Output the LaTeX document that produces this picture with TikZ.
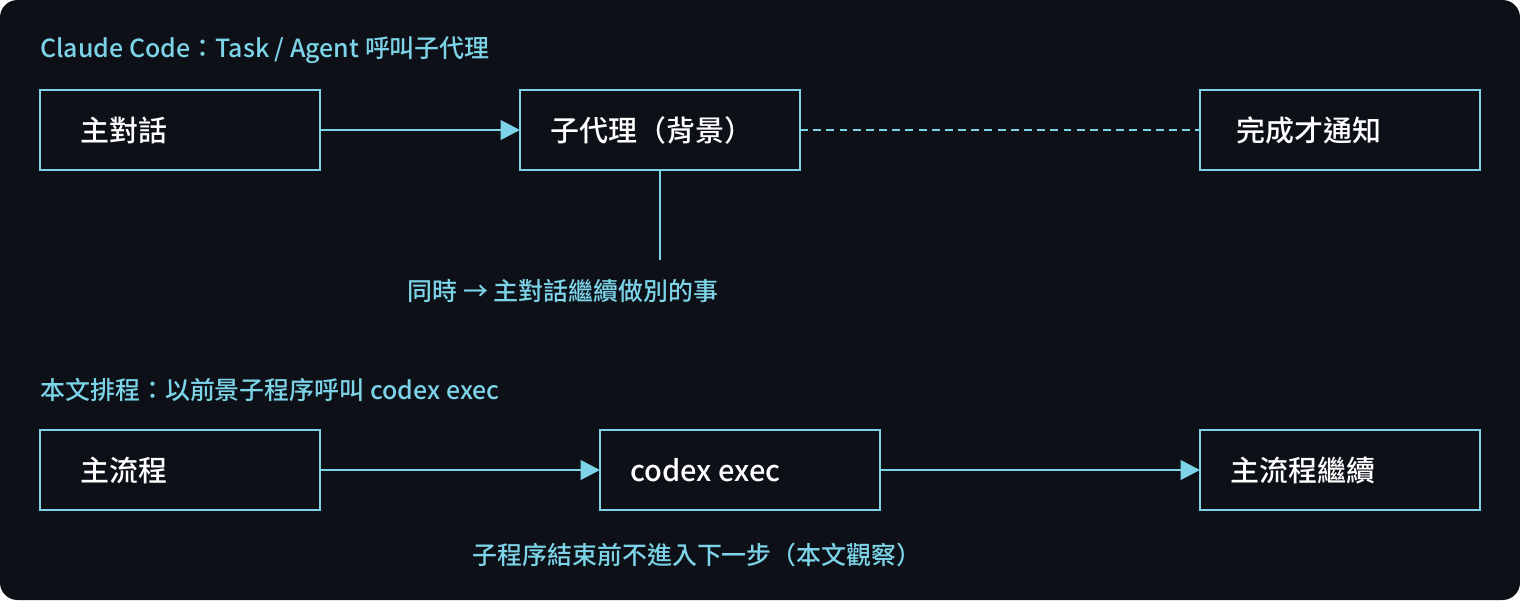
\documentclass[tikz,border=0pt]{standalone}
\usepackage{fontspec}
\setmainfont{Noto Sans CJK TC}[BoldFont={Noto Sans CJK TC Medium}]
\usetikzlibrary{arrows.meta}
\definecolor{bg}{HTML}{0D1117}
\definecolor{cy}{HTML}{7DD3E8}
\begin{document}
\begin{tikzpicture}[x=0.02cm,y=-0.02cm,
  box/.style={draw=cy,line width=1.5pt,fill=bg},
  btxt/.style={anchor=west,inner sep=0pt,text=white,font=\fontsize{16.5}{19}\selectfont\bfseries},
  lbl/.style={text=cy,inner sep=0pt,font=\fontsize{14.2}{17}\selectfont\bfseries},
  arr/.style={draw=cy,line width=1.6pt,-{Triangle[length=11pt,width=11pt]}}]
\fill[white] (0,0) rectangle (1520,600);
\fill[bg,rounded corners=0.35cm] (0,0) rectangle (1520,600);
\useasboundingbox (0,0) rectangle (1520,600);
\node[lbl,anchor=west] (t1) at (40,50) {Claude Code：Task / Agent 呼叫子代理};
\node[lbl,anchor=west] (t2) at (40,390) {本文排程：以前景子程序呼叫 codex exec};
\draw[box] (40,90) rectangle (320,170);
\coordinate (a) at (320,130);
\draw[box] (520,90) rectangle (800,170);
\coordinate (b) at (520,130); \coordinate (b2) at (800,130); \coordinate (b3) at (660,170);
\draw[box] (1200,90) rectangle (1480,170);
\coordinate (c) at (1200,130);
\node[btxt] (n1) at (80,130) {主對話};
\node[btxt] (n2) at (550,130) {子代理（背景）};
\node[btxt] (n3) at (1236,130) {完成才通知};
\draw[arr] (a) -- (b);
\draw[cy,line width=1.6pt,dash pattern=on 4.5pt off 3pt] (b2) -- (c);
\coordinate (v) at (660,260);
\draw[cy,line width=1.6pt] (b3) -- (v);
\node[lbl] (l1) at (563,291) {同時 → 主對話繼續做別的事};
\draw[box] (40,430) rectangle (320,510);
\draw[box] (600,430) rectangle (880,510);
\draw[box] (1200,430) rectangle (1480,510);
\coordinate (d) at (320,470); \coordinate (e) at (600,470);
\coordinate (e2) at (880,470); \coordinate (f) at (1200,470);
\node[btxt] (m1) at (80,470) {主流程};
\node[btxt] (m2) at (630,470) {codex exec};
\node[btxt] (m3) at (1230,470) {主流程繼續};
\draw[arr] (d) -- (e);
\draw[arr] (e2) -- (f);
\node[lbl] (l2) at (697,555) {子程序結束前不進入下一步（本文觀察）};
\end{tikzpicture}
\end{document}
